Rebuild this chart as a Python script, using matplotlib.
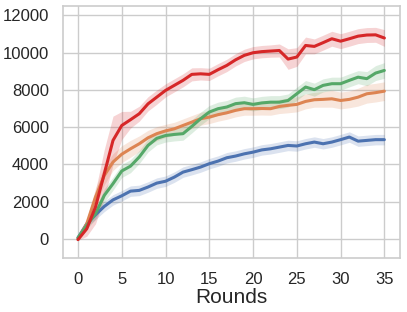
import matplotlib
matplotlib.use("Agg")
import matplotlib.pyplot as plt
import seaborn as sns
import numpy as np

rounds = list(range(36))

blue = [70, 820, 1300, 1750, 2100, 2320, 2570, 2610, 2790, 3000, 3100, 3320, 3590, 3720, 3860, 4040,
        4180, 4360, 4450, 4570, 4660, 4780, 4840, 4930, 5020, 4990, 5110, 5200, 5110, 5200, 5330,
        5470, 5250, 5290, 5330, 5330]
blue_err = [40, 150, 250, 280, 280, 280, 280, 280, 280, 280, 280, 280, 280, 280, 280, 280,
            280, 280, 280, 280, 280, 280, 280, 280, 280, 280, 280, 280, 280, 280, 280,
            280, 280, 280, 280, 280]

orange = [0, 820, 2250, 3410, 4130, 4550, 4840, 5110, 5430, 5650, 5800, 5910, 6090, 6270, 6450, 6540,
          6670, 6770, 6900, 6990, 6990, 7000, 6990, 7110, 7170, 7220, 7380, 7470, 7490, 7520, 7430,
          7490, 7610, 7790, 7850, 7930]
orange_err = [40, 250, 500, 500, 450, 450, 450, 420, 400, 380, 350, 350, 350, 350, 350, 350,
              350, 350, 350, 350, 350, 350, 350, 380, 400, 400, 400, 400, 420, 450, 450,
              450, 480, 500, 500, 500]

green = [70, 730, 1360, 2340, 2970, 3650, 3910, 4400, 5020, 5400, 5550, 5610, 5650, 6040, 6450, 6810,
         6990, 7080, 7260, 7310, 7220, 7300, 7340, 7340, 7430, 7790, 8150, 8010, 8240, 8330, 8330,
         8510, 8680, 8600, 8900, 9040]
green_err = [40, 200, 300, 350, 350, 350, 350, 350, 350, 350, 350, 350, 350, 350, 350, 350,
             350, 350, 350, 350, 350, 350, 350, 350, 350, 350, 350, 350, 350, 350, 350,
             350, 350, 380, 400, 420]

red = [-30, 550, 1720, 3500, 5290, 6090, 6400, 6720, 7250, 7610, 7970, 8240, 8510, 8830, 8860, 8830,
       9080, 9310, 9610, 9850, 9990, 10050, 10080, 10110, 9650, 9760, 10380, 10330, 10530, 10740, 10610,
       10740, 10880, 10940, 10950, 10780]
red_err = [40, 400, 900, 1300, 1300, 750, 450, 400, 380, 380, 350, 350, 350, 350, 330, 330,
           330, 330, 330, 330, 330, 330, 330, 350, 550, 500, 450, 400, 400, 400, 400,
           400, 400, 400, 400, 450]

series = [
    (blue, blue_err, "#4c72b0"),
    (orange, orange_err, "#dd8452"),
    (green, green_err, "#55a868"),
    (red, red_err, "#d62728"),
]

sns.set_theme(style="whitegrid")
plt.rcParams['font.family'] = ['Liberation Sans', 'DejaVu Sans']

fig = plt.figure(figsize=(4.07, 3.12), dpi=100)
ax = fig.add_axes([0.154, 0.174, 0.828, 0.807])

x = np.array(rounds)
for vals, err, col in series:
    v = np.array(vals, dtype=float)
    e = np.array(err, dtype=float)
    ax.fill_between(x, v - e, v + e, color=col, alpha=0.2, linewidth=0)
    ax.plot(x, v, color=col, linewidth=2.2)

ax.set_xlim(-1.75, 36.75)
ax.set_ylim(-1000, 12500)
ax.set_xticks([0, 5, 10, 15, 20, 25, 30, 35])
ax.set_yticks([0, 2000, 4000, 6000, 8000, 10000, 12000])
ax.tick_params(axis='both', labelsize=12, colors='#262626', pad=4)
ax.set_xlabel("Rounds", fontsize=15, color='#262626', labelpad=1)
for s in ax.spines.values():
    s.set_edgecolor('#cccccc')
    s.set_linewidth(1.2)

fig.savefig("out.png", dpi=100)
